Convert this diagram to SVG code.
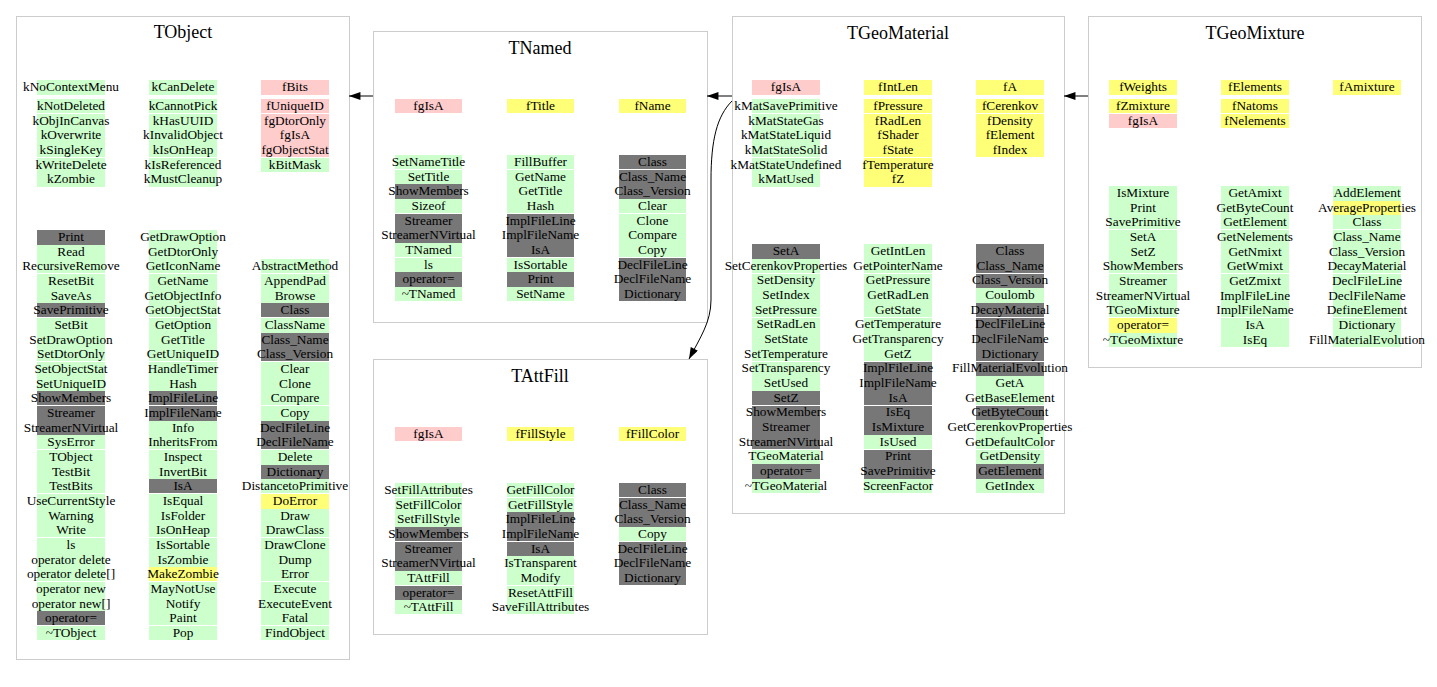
<svg xmlns="http://www.w3.org/2000/svg" width="1437" height="687" viewBox="0 0 1437 687">
<style>
text{font-family:"Liberation Serif","Times New Roman",serif;font-size:13.3px;text-anchor:middle;fill:#000}
text.h{font-size:18px}
.box{fill:#fff;stroke:#cccccc;stroke-width:1}
rect{shape-rendering:crispEdges}
.g{fill:#ccffcc}.p{fill:#ffcccc}.y{fill:#ffff77}.d{fill:#777777}.w{fill:#ffffff}
</style>
<defs>
<marker id="arr" viewBox="0 0 10 7" refX="10" refY="3.5" markerWidth="13" markerHeight="8" markerUnits="userSpaceOnUse" orient="auto"><path d="M0,0 L10,3.5 L0,7 z" fill="#000"/></marker>
</defs>
<rect width="1437" height="687" fill="#fff"/>

<g id="TObject">
<rect class="box" x="16.5" y="16.5" width="333" height="643"/>
<text class="h" x="183" y="38">TObject</text>
<rect class="g" x="37" y="80" width="68" height="15"/>
<rect class="g" x="149" y="80" width="68" height="15"/>
<rect class="p" x="261" y="80" width="68" height="15"/>
<rect class="g" x="37" y="99" width="68" height="88"/>
<rect class="g" x="149" y="99" width="68" height="88"/>
<rect class="p" x="261" y="99" width="68" height="59"/>
<rect class="g" x="261" y="158" width="68" height="14"/>
<rect class="w" x="37" y="113" width="292" height="1"/>
<rect class="w" x="37" y="157" width="292" height="1"/>
<text x="71" y="91">kNoContextMenu</text>
<text x="71" y="110">kNotDeleted</text>
<text x="71" y="125">kObjInCanvas</text>
<text x="71" y="139">kOverwrite</text>
<text x="71" y="154">kSingleKey</text>
<text x="71" y="169">kWriteDelete</text>
<text x="71" y="183">kZombie</text>
<text x="183" y="91">kCanDelete</text>
<text x="183" y="110">kCannotPick</text>
<text x="183" y="125">kHasUUID</text>
<text x="183" y="139">kInvalidObject</text>
<text x="183" y="154">kIsOnHeap</text>
<text x="183" y="169">kIsReferenced</text>
<text x="183" y="183">kMustCleanup</text>
<text x="295" y="91">fBits</text>
<text x="295" y="110">fUniqueID</text>
<text x="295" y="125">fgDtorOnly</text>
<text x="295" y="139">fgIsA</text>
<text x="295" y="154">fgObjectStat</text>
<text x="295" y="169">kBitMask</text>

<rect class="d" x="37" y="230" width="68" height="15"/>
<rect class="g" x="37" y="245" width="68" height="58"/>
<rect class="d" x="37" y="303" width="68" height="15"/>
<rect class="g" x="37" y="318" width="68" height="73"/>
<rect class="d" x="37" y="391" width="68" height="44"/>
<rect class="g" x="37" y="435" width="68" height="176"/>
<rect class="d" x="37" y="611" width="68" height="15"/>
<rect class="g" x="37" y="626" width="68" height="14"/>
<rect class="g" x="149" y="230" width="68" height="161"/>
<rect class="d" x="149" y="391" width="68" height="30"/>
<rect class="g" x="149" y="421" width="68" height="58"/>
<rect class="d" x="149" y="479" width="68" height="15"/>
<rect class="g" x="149" y="494" width="68" height="73"/>
<rect class="y" x="149" y="567" width="68" height="15"/>
<rect class="g" x="149" y="582" width="68" height="58"/>
<rect class="g" x="261" y="259" width="68" height="44"/>
<rect class="d" x="261" y="303" width="68" height="15"/>
<rect class="g" x="261" y="318" width="68" height="15"/>
<rect class="d" x="261" y="333" width="68" height="29"/>
<rect class="g" x="261" y="362" width="68" height="59"/>
<rect class="d" x="261" y="421" width="68" height="29"/>
<rect class="g" x="261" y="450" width="68" height="15"/>
<rect class="d" x="261" y="465" width="68" height="14"/>
<rect class="g" x="261" y="479" width="68" height="15"/>
<rect class="y" x="261" y="494" width="68" height="15"/>
<rect class="g" x="261" y="509" width="68" height="131"/>
<rect class="w" x="37" y="273" width="292" height="1"/>
<rect class="w" x="37" y="317" width="292" height="1"/>
<rect class="w" x="37" y="361" width="292" height="1"/>
<rect class="w" x="37" y="405" width="292" height="1"/>
<rect class="w" x="37" y="449" width="292" height="1"/>
<rect class="w" x="37" y="493" width="292" height="1"/>
<rect class="w" x="37" y="537" width="292" height="1"/>
<rect class="w" x="37" y="581" width="292" height="1"/>
<rect class="w" x="37" y="625" width="292" height="1"/>
<text x="71" y="241">Print</text>
<text x="71" y="256">Read</text>
<text x="71" y="270">RecursiveRemove</text>
<text x="71" y="285">ResetBit</text>
<text x="71" y="300">SaveAs</text>
<text x="71" y="314">SavePrimitive</text>
<text x="71" y="329">SetBit</text>
<text x="71" y="344">SetDrawOption</text>
<text x="71" y="358">SetDtorOnly</text>
<text x="71" y="373">SetObjectStat</text>
<text x="71" y="388">SetUniqueID</text>
<text x="71" y="402">ShowMembers</text>
<text x="71" y="417">Streamer</text>
<text x="71" y="432">StreamerNVirtual</text>
<text x="71" y="446">SysError</text>
<text x="71" y="461">TObject</text>
<text x="71" y="476">TestBit</text>
<text x="71" y="490">TestBits</text>
<text x="71" y="505">UseCurrentStyle</text>
<text x="71" y="520">Warning</text>
<text x="71" y="534">Write</text>
<text x="71" y="549">ls</text>
<text x="71" y="564">operator delete</text>
<text x="71" y="578">operator delete[]</text>
<text x="71" y="593">operator new</text>
<text x="71" y="608">operator new[]</text>
<text x="71" y="622">operator=</text>
<text x="71" y="637">~TObject</text>
<text x="183" y="241">GetDrawOption</text>
<text x="183" y="256">GetDtorOnly</text>
<text x="183" y="270">GetIconName</text>
<text x="183" y="285">GetName</text>
<text x="183" y="300">GetObjectInfo</text>
<text x="183" y="314">GetObjectStat</text>
<text x="183" y="329">GetOption</text>
<text x="183" y="344">GetTitle</text>
<text x="183" y="358">GetUniqueID</text>
<text x="183" y="373">HandleTimer</text>
<text x="183" y="388">Hash</text>
<text x="183" y="402">ImplFileLine</text>
<text x="183" y="417">ImplFileName</text>
<text x="183" y="432">Info</text>
<text x="183" y="446">InheritsFrom</text>
<text x="183" y="461">Inspect</text>
<text x="183" y="476">InvertBit</text>
<text x="183" y="490">IsA</text>
<text x="183" y="505">IsEqual</text>
<text x="183" y="520">IsFolder</text>
<text x="183" y="534">IsOnHeap</text>
<text x="183" y="549">IsSortable</text>
<text x="183" y="564">IsZombie</text>
<text x="183" y="578">MakeZombie</text>
<text x="183" y="593">MayNotUse</text>
<text x="183" y="608">Notify</text>
<text x="183" y="622">Paint</text>
<text x="183" y="637">Pop</text>
<text x="295" y="270">AbstractMethod</text>
<text x="295" y="285">AppendPad</text>
<text x="295" y="300">Browse</text>
<text x="295" y="314">Class</text>
<text x="295" y="329">ClassName</text>
<text x="295" y="344">Class_Name</text>
<text x="295" y="358">Class_Version</text>
<text x="295" y="373">Clear</text>
<text x="295" y="388">Clone</text>
<text x="295" y="402">Compare</text>
<text x="295" y="417">Copy</text>
<text x="295" y="432">DeclFileLine</text>
<text x="295" y="446">DeclFileName</text>
<text x="295" y="461">Delete</text>
<text x="295" y="476">Dictionary</text>
<text x="295" y="490">DistancetoPrimitive</text>
<text x="295" y="505">DoError</text>
<text x="295" y="520">Draw</text>
<text x="295" y="534">DrawClass</text>
<text x="295" y="549">DrawClone</text>
<text x="295" y="564">Dump</text>
<text x="295" y="578">Error</text>
<text x="295" y="593">Execute</text>
<text x="295" y="608">ExecuteEvent</text>
<text x="295" y="622">Fatal</text>
<text x="295" y="637">FindObject</text>
</g>

<g id="TNamed">
<rect class="box" x="373.5" y="31.5" width="334" height="291"/>
<text class="h" x="540" y="54">TNamed</text>
<rect class="p" x="395" y="99" width="67" height="14"/>
<rect class="y" x="507" y="99" width="67" height="14"/>
<rect class="y" x="619" y="99" width="67" height="14"/>
<text x="428.5" y="110">fgIsA</text>
<text x="540.5" y="110">fTitle</text>
<text x="652.5" y="110">fName</text>
<rect class="g" x="395" y="155" width="67" height="29"/>
<rect class="d" x="395" y="184" width="67" height="15"/>
<rect class="g" x="395" y="199" width="67" height="15"/>
<rect class="d" x="395" y="214" width="67" height="29"/>
<rect class="g" x="395" y="243" width="67" height="29"/>
<rect class="d" x="395" y="272" width="67" height="15"/>
<rect class="g" x="395" y="287" width="67" height="14"/>
<rect class="g" x="507" y="155" width="67" height="59"/>
<rect class="d" x="507" y="214" width="67" height="44"/>
<rect class="g" x="507" y="258" width="67" height="14"/>
<rect class="d" x="507" y="272" width="67" height="15"/>
<rect class="g" x="507" y="287" width="67" height="14"/>
<rect class="d" x="619" y="155" width="67" height="44"/>
<rect class="g" x="619" y="199" width="67" height="59"/>
<rect class="d" x="619" y="258" width="67" height="43"/>
<rect class="w" x="395" y="169" width="291" height="1"/>
<rect class="w" x="395" y="213" width="291" height="1"/>
<rect class="w" x="395" y="257" width="291" height="1"/>
<text x="428.5" y="166">SetNameTitle</text>
<text x="428.5" y="181">SetTitle</text>
<text x="428.5" y="195">ShowMembers</text>
<text x="428.5" y="210">Sizeof</text>
<text x="428.5" y="225">Streamer</text>
<text x="428.5" y="239">StreamerNVirtual</text>
<text x="428.5" y="254">TNamed</text>
<text x="428.5" y="269">ls</text>
<text x="428.5" y="283">operator=</text>
<text x="428.5" y="298">~TNamed</text>
<text x="540.5" y="166">FillBuffer</text>
<text x="540.5" y="181">GetName</text>
<text x="540.5" y="195">GetTitle</text>
<text x="540.5" y="210">Hash</text>
<text x="540.5" y="225">ImplFileLine</text>
<text x="540.5" y="239">ImplFileName</text>
<text x="540.5" y="254">IsA</text>
<text x="540.5" y="269">IsSortable</text>
<text x="540.5" y="283">Print</text>
<text x="540.5" y="298">SetName</text>
<text x="652.5" y="166">Class</text>
<text x="652.5" y="181">Class_Name</text>
<text x="652.5" y="195">Class_Version</text>
<text x="652.5" y="210">Clear</text>
<text x="652.5" y="225">Clone</text>
<text x="652.5" y="239">Compare</text>
<text x="652.5" y="254">Copy</text>
<text x="652.5" y="269">DeclFileLine</text>
<text x="652.5" y="283">DeclFileName</text>
<text x="652.5" y="298">Dictionary</text>
</g>

<g id="TAttFill">
<rect class="box" x="373.5" y="359.5" width="334" height="275"/>
<text class="h" x="540" y="382">TAttFill</text>
<rect class="p" x="395" y="427" width="67" height="14"/>
<rect class="y" x="507" y="427" width="67" height="14"/>
<rect class="y" x="619" y="427" width="67" height="14"/>
<text x="428.5" y="438">fgIsA</text>
<text x="540.5" y="438">fFillStyle</text>
<text x="652.5" y="438">fFillColor</text>
<rect class="g" x="395" y="483" width="67" height="44"/>
<rect class="d" x="395" y="527" width="67" height="44"/>
<rect class="g" x="395" y="571" width="67" height="15"/>
<rect class="d" x="395" y="586" width="67" height="14"/>
<rect class="g" x="395" y="600" width="67" height="14"/>
<rect class="g" x="507" y="483" width="67" height="29"/>
<rect class="d" x="507" y="512" width="67" height="44"/>
<rect class="g" x="507" y="556" width="67" height="58"/>
<rect class="d" x="619" y="483" width="67" height="44"/>
<rect class="g" x="619" y="527" width="67" height="15"/>
<rect class="d" x="619" y="542" width="67" height="44"/>
<rect class="w" x="395" y="497" width="291" height="1"/>
<rect class="w" x="395" y="541" width="291" height="1"/>
<rect class="w" x="395" y="585" width="291" height="1"/>
<text x="428.5" y="494">SetFillAttributes</text>
<text x="428.5" y="509">SetFillColor</text>
<text x="428.5" y="523">SetFillStyle</text>
<text x="428.5" y="538">ShowMembers</text>
<text x="428.5" y="553">Streamer</text>
<text x="428.5" y="567">StreamerNVirtual</text>
<text x="428.5" y="582">TAttFill</text>
<text x="428.5" y="597">operator=</text>
<text x="428.5" y="611">~TAttFill</text>
<text x="540.5" y="494">GetFillColor</text>
<text x="540.5" y="509">GetFillStyle</text>
<text x="540.5" y="523">ImplFileLine</text>
<text x="540.5" y="538">ImplFileName</text>
<text x="540.5" y="553">IsA</text>
<text x="540.5" y="567">IsTransparent</text>
<text x="540.5" y="582">Modify</text>
<text x="540.5" y="597">ResetAttFill</text>
<text x="540.5" y="611">SaveFillAttributes</text>
<text x="652.5" y="494">Class</text>
<text x="652.5" y="509">Class_Name</text>
<text x="652.5" y="523">Class_Version</text>
<text x="652.5" y="538">Copy</text>
<text x="652.5" y="553">DeclFileLine</text>
<text x="652.5" y="567">DeclFileName</text>
<text x="652.5" y="582">Dictionary</text>
</g>

<g id="TGeoMaterial">
<rect class="box" x="732.5" y="16.5" width="332" height="497"/>
<text class="h" x="898" y="39">TGeoMaterial</text>
<rect class="p" x="752" y="80" width="68" height="15"/>
<rect class="y" x="864" y="80" width="68" height="15"/>
<rect class="y" x="976" y="80" width="68" height="15"/>
<rect class="g" x="752" y="99" width="68" height="88"/>
<rect class="y" x="864" y="99" width="68" height="88"/>
<rect class="y" x="976" y="99" width="68" height="59"/>
<rect class="w" x="752" y="113" width="292" height="1"/>
<rect class="w" x="752" y="157" width="292" height="1"/>
<text x="786" y="91">fgIsA</text>
<text x="786" y="110">kMatSavePrimitive</text>
<text x="786" y="125">kMatStateGas</text>
<text x="786" y="139">kMatStateLiquid</text>
<text x="786" y="154">kMatStateSolid</text>
<text x="786" y="169">kMatStateUndefined</text>
<text x="786" y="183">kMatUsed</text>
<text x="898" y="91">fIntLen</text>
<text x="898" y="110">fPressure</text>
<text x="898" y="125">fRadLen</text>
<text x="898" y="139">fShader</text>
<text x="898" y="154">fState</text>
<text x="898" y="169">fTemperature</text>
<text x="898" y="183">fZ</text>
<text x="1010" y="91">fA</text>
<text x="1010" y="110">fCerenkov</text>
<text x="1010" y="125">fDensity</text>
<text x="1010" y="139">fElement</text>
<text x="1010" y="154">fIndex</text>

<rect class="d" x="752" y="244" width="68" height="15"/>
<rect class="g" x="752" y="259" width="68" height="132"/>
<rect class="d" x="752" y="391" width="68" height="58"/>
<rect class="g" x="752" y="449" width="68" height="15"/>
<rect class="d" x="752" y="464" width="68" height="15"/>
<rect class="g" x="752" y="479" width="68" height="14"/>
<rect class="g" x="864" y="244" width="68" height="117"/>
<rect class="d" x="864" y="361" width="68" height="74"/>
<rect class="g" x="864" y="435" width="68" height="14"/>
<rect class="d" x="864" y="449" width="68" height="30"/>
<rect class="g" x="864" y="479" width="68" height="14"/>
<rect class="d" x="976" y="244" width="68" height="44"/>
<rect class="g" x="976" y="288" width="68" height="15"/>
<rect class="d" x="976" y="303" width="68" height="73"/>
<rect class="g" x="976" y="376" width="68" height="29"/>
<rect class="d" x="976" y="405" width="68" height="15"/>
<rect class="g" x="976" y="420" width="68" height="44"/>
<rect class="d" x="976" y="464" width="68" height="15"/>
<rect class="g" x="976" y="479" width="68" height="14"/>
<rect class="w" x="752" y="273" width="292" height="1"/>
<rect class="w" x="752" y="317" width="292" height="1"/>
<rect class="w" x="752" y="361" width="292" height="1"/>
<rect class="w" x="752" y="405" width="292" height="1"/>
<rect class="w" x="752" y="449" width="292" height="1"/>
<text x="786" y="255">SetA</text>
<text x="786" y="270">SetCerenkovProperties</text>
<text x="786" y="284">SetDensity</text>
<text x="786" y="299">SetIndex</text>
<text x="786" y="314">SetPressure</text>
<text x="786" y="328">SetRadLen</text>
<text x="786" y="343">SetState</text>
<text x="786" y="358">SetTemperature</text>
<text x="786" y="372">SetTransparency</text>
<text x="786" y="387">SetUsed</text>
<text x="786" y="402">SetZ</text>
<text x="786" y="416">ShowMembers</text>
<text x="786" y="431">Streamer</text>
<text x="786" y="446">StreamerNVirtual</text>
<text x="786" y="460">TGeoMaterial</text>
<text x="786" y="475">operator=</text>
<text x="786" y="490">~TGeoMaterial</text>
<text x="898" y="255">GetIntLen</text>
<text x="898" y="270">GetPointerName</text>
<text x="898" y="284">GetPressure</text>
<text x="898" y="299">GetRadLen</text>
<text x="898" y="314">GetState</text>
<text x="898" y="328">GetTemperature</text>
<text x="898" y="343">GetTransparency</text>
<text x="898" y="358">GetZ</text>
<text x="898" y="372">ImplFileLine</text>
<text x="898" y="387">ImplFileName</text>
<text x="898" y="402">IsA</text>
<text x="898" y="416">IsEq</text>
<text x="898" y="431">IsMixture</text>
<text x="898" y="446">IsUsed</text>
<text x="898" y="460">Print</text>
<text x="898" y="475">SavePrimitive</text>
<text x="898" y="490">ScreenFactor</text>
<text x="1010" y="255">Class</text>
<text x="1010" y="270">Class_Name</text>
<text x="1010" y="284">Class_Version</text>
<text x="1010" y="299">Coulomb</text>
<text x="1010" y="314">DecayMaterial</text>
<text x="1010" y="328">DeclFileLine</text>
<text x="1010" y="343">DeclFileName</text>
<text x="1010" y="358">Dictionary</text>
<text x="1010" y="372">FillMaterialEvolution</text>
<text x="1010" y="387">GetA</text>
<text x="1010" y="402">GetBaseElement</text>
<text x="1010" y="416">GetByteCount</text>
<text x="1010" y="431">GetCerenkovProperties</text>
<text x="1010" y="446">GetDefaultColor</text>
<text x="1010" y="460">GetDensity</text>
<text x="1010" y="475">GetElement</text>
<text x="1010" y="490">GetIndex</text>
</g>

<g id="TGeoMixture">
<rect class="box" x="1088.5" y="16.5" width="333" height="351"/>
<text class="h" x="1255" y="39">TGeoMixture</text>
<rect class="y" x="1109" y="80" width="68" height="15"/>
<rect class="y" x="1221" y="80" width="68" height="15"/>
<rect class="y" x="1333" y="80" width="68" height="15"/>
<rect class="y" x="1109" y="99" width="68" height="15"/>
<rect class="p" x="1109" y="114" width="68" height="14"/>
<rect class="y" x="1221" y="99" width="68" height="29"/>
<rect class="w" x="1109" y="113" width="180" height="1"/>
<text x="1143" y="91">fWeights</text>
<text x="1143" y="110">fZmixture</text>
<text x="1143" y="125">fgIsA</text>
<text x="1255" y="91">fElements</text>
<text x="1255" y="110">fNatoms</text>
<text x="1255" y="125">fNelements</text>
<text x="1367" y="91">fAmixture</text>
<rect class="g" x="1109" y="186" width="68" height="132"/>
<rect class="y" x="1109" y="318" width="68" height="15"/>
<rect class="g" x="1109" y="333" width="68" height="14"/>
<rect class="g" x="1221" y="186" width="68" height="161"/>
<rect class="g" x="1333" y="186" width="68" height="15"/>
<rect class="y" x="1333" y="201" width="68" height="14"/>
<rect class="g" x="1333" y="215" width="68" height="132"/>
<rect class="w" x="1109" y="229" width="292" height="1"/>
<rect class="w" x="1109" y="273" width="292" height="1"/>
<rect class="w" x="1109" y="317" width="292" height="1"/>
<text x="1143" y="197">IsMixture</text>
<text x="1143" y="212">Print</text>
<text x="1143" y="226">SavePrimitive</text>
<text x="1143" y="241">SetA</text>
<text x="1143" y="256">SetZ</text>
<text x="1143" y="270">ShowMembers</text>
<text x="1143" y="285">Streamer</text>
<text x="1143" y="300">StreamerNVirtual</text>
<text x="1143" y="314">TGeoMixture</text>
<text x="1143" y="329">operator=</text>
<text x="1143" y="344">~TGeoMixture</text>
<text x="1255" y="197">GetAmixt</text>
<text x="1255" y="212">GetByteCount</text>
<text x="1255" y="226">GetElement</text>
<text x="1255" y="241">GetNelements</text>
<text x="1255" y="256">GetNmixt</text>
<text x="1255" y="270">GetWmixt</text>
<text x="1255" y="285">GetZmixt</text>
<text x="1255" y="300">ImplFileLine</text>
<text x="1255" y="314">ImplFileName</text>
<text x="1255" y="329">IsA</text>
<text x="1255" y="344">IsEq</text>
<text x="1367" y="197">AddElement</text>
<text x="1367" y="212">AverageProperties</text>
<text x="1367" y="226">Class</text>
<text x="1367" y="241">Class_Name</text>
<text x="1367" y="256">Class_Version</text>
<text x="1367" y="270">DecayMaterial</text>
<text x="1367" y="285">DeclFileLine</text>
<text x="1367" y="300">DeclFileName</text>
<text x="1367" y="314">DefineElement</text>
<text x="1367" y="329">Dictionary</text>
<text x="1367" y="344">FillMaterialEvolution</text>
</g>

<g id="connectors" fill="none" stroke="#000" stroke-width="1">
<path d="M373,96 L349,96" marker-end="url(#arr)"/>
<path d="M732,96 L707,96" marker-end="url(#arr)"/>
<path d="M1088,96 L1064,96" marker-end="url(#arr)"/>
<path d="M732,101 C717,116 711,140 711,180 L711,300 C711,322 700,338 689,359" marker-end="url(#arr)"/>
</g>
</svg>
